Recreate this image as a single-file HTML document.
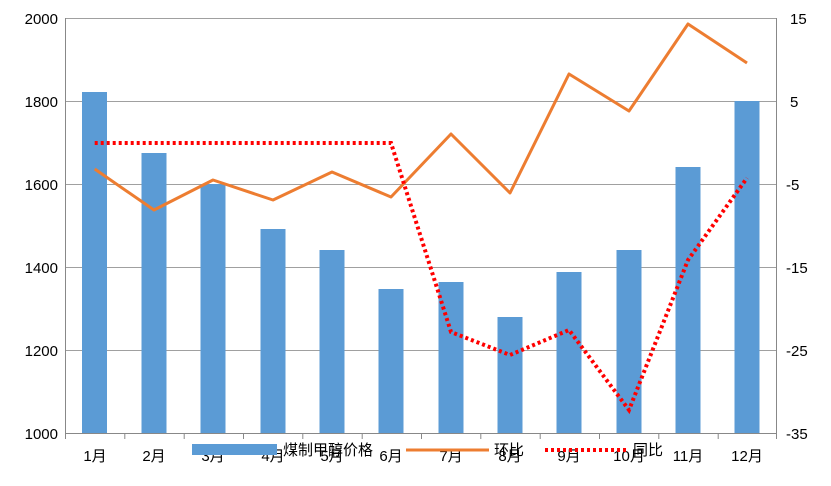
<!DOCTYPE html>
<html><head><meta charset="utf-8"><style>body{margin:0;background:#fff}svg{display:block}text{font-family:"Liberation Sans","Noto Sans CJK SC",sans-serif;font-size:15px;fill:#000}</style></head><body>
<svg width="831" height="486" viewBox="0 0 831 486">
<g stroke="#a0a0a0" stroke-width="1">
<line x1="65" y1="18.5" x2="777" y2="18.5"/><line x1="65" y1="101.5" x2="777" y2="101.5"/><line x1="65" y1="184.5" x2="777" y2="184.5"/><line x1="65" y1="267.5" x2="777" y2="267.5"/><line x1="65" y1="350.5" x2="777" y2="350.5"/>
</g>
<g stroke="#888" stroke-width="1">
<line x1="65" y1="433.5" x2="777" y2="433.5"/><line x1="65.5" y1="18" x2="65.5" y2="433"/><line x1="776.5" y1="18" x2="776.5" y2="433"/>
<path d="M65.5 433v6M124.8 433v6M184.2 433v6M243.5 433v6M302.8 433v6M362.2 433v6M421.5 433v6M480.8 433v6M540.2 433v6M599.5 433v6M658.8 433v6M718.2 433v6M776.5 433v6"/>
</g>
<g fill="#5b9bd5">
<rect x="82" y="92" width="25" height="341"/><rect x="141.5" y="153" width="25" height="280"/><rect x="200.5" y="184" width="25" height="249"/><rect x="260.5" y="229" width="25" height="204"/><rect x="319.5" y="250" width="25" height="183"/><rect x="378.5" y="289" width="25" height="144"/><rect x="438.5" y="282" width="25" height="151"/><rect x="497.5" y="317" width="25" height="116"/><rect x="556.5" y="272" width="25" height="161"/><rect x="616.5" y="250" width="25" height="183"/><rect x="675.5" y="167" width="25" height="266"/><rect x="734.5" y="101" width="25" height="332"/>
</g>
<polyline fill="none" stroke="#ed7d31" stroke-width="3" stroke-linejoin="round" points="94.7,169 154,210 213,180 273,200 332,172 391,197 451,134 510,193 569,74 629,111 688,24 747,63"/>
<polyline fill="none" stroke="#ff0000" stroke-width="4" stroke-dasharray="3,3" points="94.7,143 154,143 213,143 273,143 332,143 391,143 451,332 510,355 569,330 629,410 688,260 747,178"/>
<g text-anchor="end"><text x="58" y="24">2000</text><text x="58" y="107">1800</text><text x="58" y="190">1600</text><text x="58" y="273">1400</text><text x="58" y="356">1200</text><text x="58" y="439">1000</text></g>
<g text-anchor="start"><text x="790" y="24">15</text><text x="790" y="107">5</text><text x="786" y="190">-5</text><text x="786" y="273">-15</text><text x="786" y="356">-25</text><text x="786" y="439">-35</text></g>
<g text-anchor="middle"><text x="95" y="461">1月</text><text x="154" y="461">2月</text><text x="213" y="461">3月</text><text x="273" y="461">4月</text><text x="332" y="461">5月</text><text x="391" y="461">6月</text><text x="451" y="461">7月</text><text x="510" y="461">8月</text><text x="569" y="461">9月</text><text x="629" y="461">10月</text><text x="688" y="461">11月</text><text x="747" y="461">12月</text></g>
<rect x="192" y="444" width="85" height="11" fill="#5b9bd5"/>
<text x="283" y="455">煤制甲醇价格</text>
<line x1="406" y1="450" x2="489" y2="450" stroke="#ed7d31" stroke-width="3"/>
<text x="494" y="455">环比</text>
<line x1="545" y1="450" x2="628" y2="450" stroke="#ff0000" stroke-width="4" stroke-dasharray="3,3"/>
<text x="633" y="455">同比</text>
</svg>
</body></html>
